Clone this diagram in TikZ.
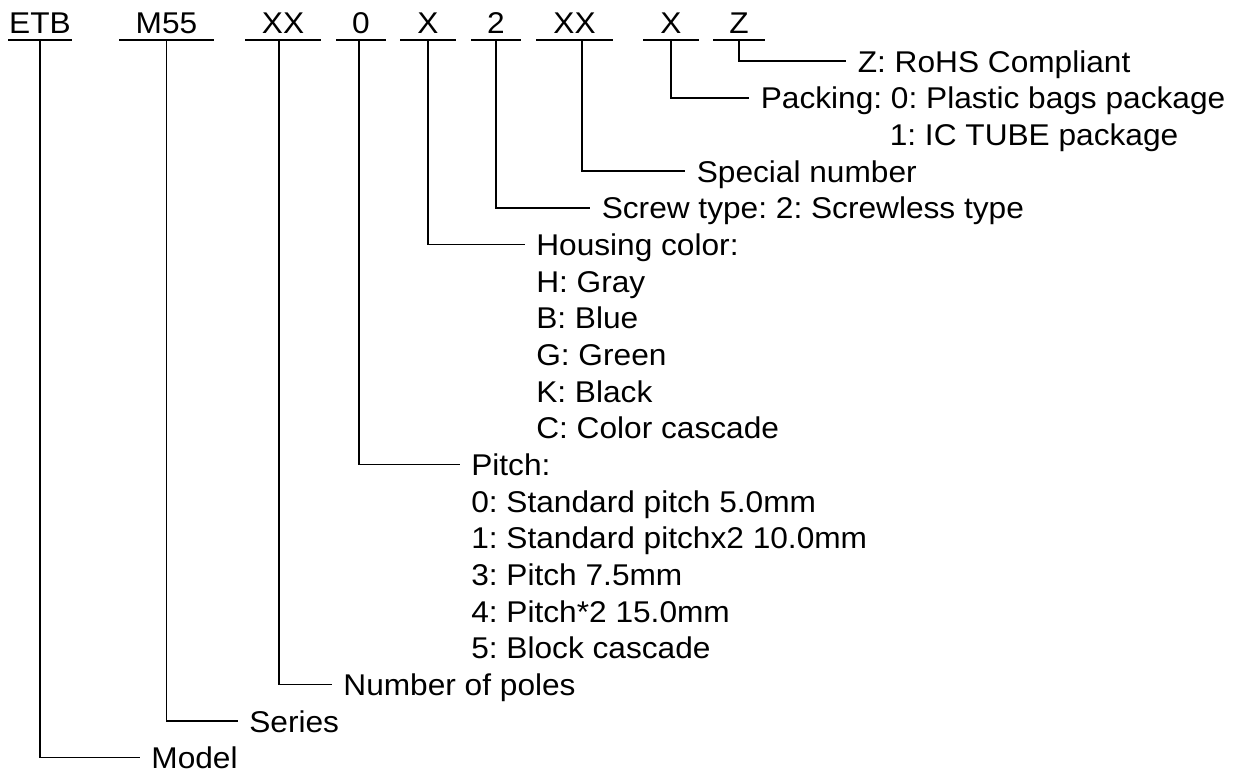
\documentclass[tikz,border=0pt]{standalone}
\usepackage{fontspec}
\setmainfont{Liberation Sans}[FakeStretch=1.055]
\usepackage{tikz}
\frenchspacing
\tikzstyle{code}=[inner sep=0pt, text height=20pt, text depth=5.5pt, anchor=base]
\tikzstyle{desc}=[inner sep=0pt, text height=22pt, text depth=0pt, anchor=base west]
\tikzstyle{wire}=[line width=1.6pt, shorten >=11pt]

\begin{document}
\begin{tikzpicture}[x=1pt, y=-1pt, font=\fontsize{30}{36}\selectfont, line width=1.6pt]
		   \useasboundingbox (0,0) rectangle (1244,771);
		   % part number fields
		   \begin{scope}
			   \node (etb) at (40, 33.5)[code, minimum width=62pt] {ETB};
			   \node (m55) at (166.5, 33.5)[code, minimum width=93pt] {M55};
			   \node (poles) at (283, 33.5)[code, minimum width=74pt] {XX};
			   \node (pitch) at (361, 33.5)[code, minimum width=48pt] {0};
			   \node (color) at (428, 33.5)[code, minimum width=54pt] {X};
			   \node (screw) at (496, 33.5)[code, minimum width=48pt] {2};
			   \node (special) at (574.5, 33.5)[code, minimum width=75pt] {XX};
			   \node (packing) at (671, 33.5)[code, minimum width=54pt] {X};
			   \node (rohs) at (739, 33.5)[code, minimum width=50pt] {Z};
		   \end{scope}
		   % descriptions
		   \begin{scope}
			   \node (rohstxt) at (857, 72)[desc] {Z: RoHS Compliant};
			   \node (packtxt) at (760, 108.7)[desc] {Packing: 0: Plastic bags package};
			   \node (packtxt1) at (889, 145.4)[desc] {1: IC TUBE package};
			   \node (spectxt) at (696, 182)[desc] {Special number};
			   \node (screwtxt) at (601, 218.7)[desc] {Screw type: 2: Screwless type};
			   \node (colortxt) at (535.5, 255.4)[desc] {Housing color:};
			   \foreach \t [count=\i] in {H: Gray, B: Blue, G: Green, K: Black, C: Color cascade}
				   \node (color\i) at (535.5, 255.4+36.68*\i)[desc] {\t};
			   \node (pitchtxt) at (470.5, 475.5)[desc] {Pitch:};
			   \foreach \t [count=\i] in {0: Standard pitch 5.0mm, 1: Standard pitchx2 10.0mm, 3: Pitch 7.5mm, 4: Pitch*2 15.0mm, 5: Block cascade}
				   \node (pitch\i) at (470.5, 475.5+36.68*\i)[desc] {\t};
			   \node (polestxt) at (342.6, 695.6)[desc] {Number of poles};
			   \node (seriestxt) at (248.5, 732.2)[desc] {Series};
			   \node (modeltxt) at (150.6, 768.5)[desc] {Model};
		   \end{scope}
		   % underlines
		   \begin{scope}
			   \foreach \n in {etb, m55, poles, pitch, color, screw, special, packing, rohs}
				   \draw (\n.south west) -- (\n.south east);
		   \end{scope}
		   % leaders
		   \begin{scope}
			   \draw [wire] (rohs.south) |- (rohstxt.west);
			   \draw [wire] (packing.south) |- (packtxt.west);
			   \draw [wire] ([xshift=7.5pt]special.south) |- (spectxt.west);
			   \draw [wire] (screw.south) |- (screwtxt.west);
			   \draw [wire] (color.south) |- (colortxt.west);
			   \draw [wire] ([xshift=-2pt]pitch.south) |- (pitchtxt.west);
			   \draw [wire] ([xshift=-4pt]poles.south) |- (polestxt.west);
			   \draw [wire] (m55.south) |- (seriestxt.west);
			   \draw [wire] (etb.south) |- (modeltxt.west);
		   \end{scope}
	   \end{tikzpicture}
\end{document}
